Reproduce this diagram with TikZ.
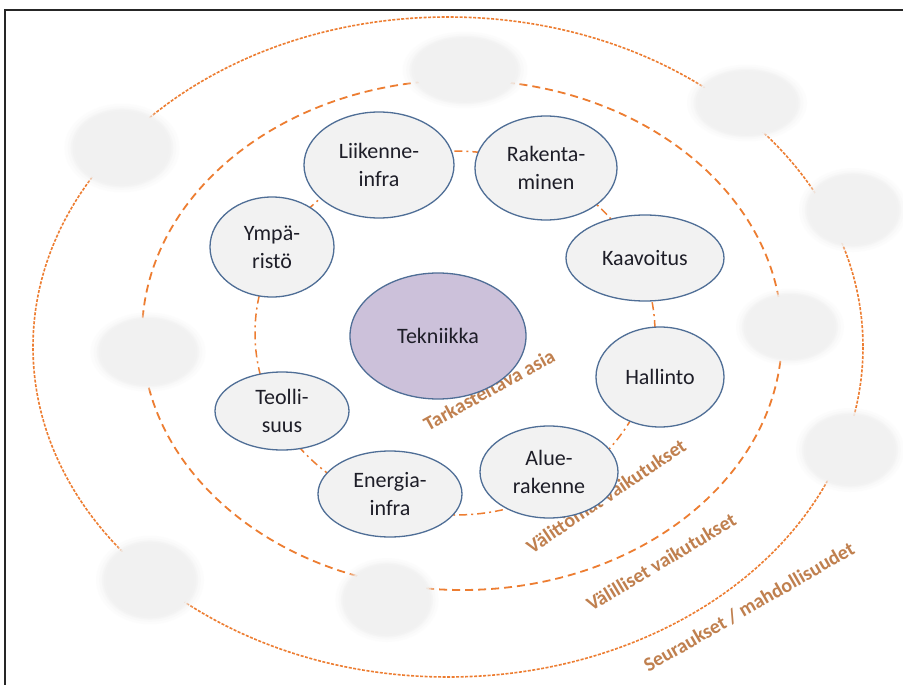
\documentclass[tikz,border=0pt]{standalone}
\usepackage{fontspec}
\setmainfont{Carlito}
\usetikzlibrary{shapes.geometric}
\definecolor{orangeline}{HTML}{ED7D31}
\definecolor{nodefill}{HTML}{F2F2F2}
\definecolor{nodeborder}{HTML}{4F6E96}
\definecolor{mainfill}{HTML}{CCC1DA}
\definecolor{labelcol}{HTML}{C0804F}
\definecolor{blobcol}{HTML}{F1F1F1}
\definecolor{textcol}{HTML}{1E1E28}
\begin{document}
\begin{tikzpicture}[x=1pt,y=-1pt,
  topic/.style={ellipse, draw=nodeborder, line width=1.3pt, fill=nodefill, inner sep=0pt,
    align=center, font=\fontsize{22}{28}\selectfont, text=textcol},
  ringlabel/.style={text=labelcol, font=\bfseries\fontsize{20}{22}\selectfont, inner sep=0pt},
  outerring/.style={orangeline, line width=1.6pt, dash pattern=on 3pt off 1.5pt},
  midring/.style={orangeline, line width=1.8pt, dash pattern=on 8pt off 5pt},
  innerring/.style={orangeline, line width=1.5pt, dash pattern=on 8pt off 4pt on 2pt off 4pt},
  frameline/.style={draw=black!85, line width=1.4pt}
]
\useasboundingbox (0,0) rectangle (903,685);
\fill[white] (0,0) rectangle (903,685);
\draw[frameline] (5,700) -- (5,10) -- (920,10);

% rings
\draw[outerring] (448,347) ellipse [x radius=415, y radius=330];
\draw[midring] (462,335) ellipse [x radius=320, y radius=255];
\draw[innerring] (455,333) ellipse [x radius=200, y radius=182];

% soft grey placeholders
\foreach \cx/\cy/\rx/\ry in {465/70/52/32, 747/103/50/32, 853/210/45/35, 122/148/48/37,
  148/352/48/33, 790/327/45/32, 850/450/45/35, 150/580/45/37, 387/600/43/35}{
  \fill[blobcol, opacity=0.15] (\cx,\cy) ellipse [x radius=\rx*1.2, y radius=\ry*1.2];
  \fill[blobcol, opacity=0.25] (\cx,\cy) ellipse [x radius=\rx*1.13, y radius=\ry*1.13];
  \fill[blobcol, opacity=0.4] (\cx,\cy) ellipse [x radius=\rx*1.07, y radius=\ry*1.07];
  \fill[blobcol, opacity=0.7] (\cx,\cy) ellipse [x radius=\rx*1.03, y radius=\ry*1.03];
  \fill[blobcol] (\cx,\cy) ellipse [x radius=\rx*0.97, y radius=\ry*0.97];
}

% ring labels
\node[ringlabel, rotate=29] (lab1) at (489,390) {Tarkasteltava asia};
\node[ringlabel, rotate=34] (lab2) at (606,496) {Välittömät vaikutukset};
\node[ringlabel, rotate=31] (lab3) at (661,562) {Välilliset vaikutukset};
\node[ringlabel, rotate=30] (lab4) at (749,607) {Seuraukset / mahdollisuudet};

% nodes
\node[topic, minimum width=176, minimum height=126, fill=mainfill] (tek) at (438,336) {Tekniikka};
\node[topic, minimum width=150, minimum height=106] (liik) at (379,165) {Liikenne-\\infra};
\node[topic, minimum width=142, minimum height=104] (rak) at (546,168) {Rakenta-\\minen};
\node[topic, minimum width=158, minimum height=86] (kaav) at (645,258) {Kaavoitus};
\node[topic, minimum width=128, minimum height=100] (hall) at (660,377) {Hallinto};
\node[topic, minimum width=138, minimum height=92] (alue) at (549,472) {Alue-\\rakenne};
\node[topic, minimum width=144, minimum height=86] (ener) at (390,494) {Energia-\\infra};
\node[topic, minimum width=134, minimum height=78] (teol) at (282,411) {Teolli-\\suus};
\node[topic, minimum width=124, minimum height=100] (ymp) at (272,247) {Ympä-\\ristö};
\end{tikzpicture}
\end{document}
